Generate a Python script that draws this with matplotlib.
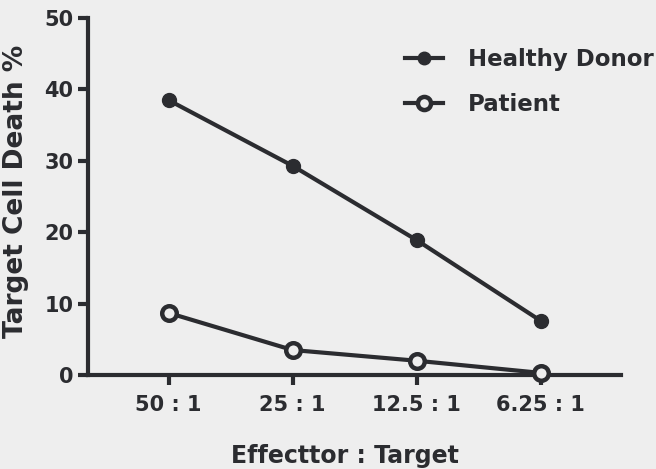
import matplotlib.pyplot as plt

ratios = ['50 : 1', '25 : 1', '12.5 : 1', '6.25 : 1']
healthy = [38.5, 29.3, 18.9, 7.6]
patient = [8.7, 3.5, 2.0, 0.3]

ink = '#2b2c30'
bg = '#eeeeee'

plt.rcParams['font.family'] = ['DejaVu Sans']
plt.rcParams['font.weight'] = 'bold'

fig = plt.figure(figsize=(6.56, 4.69), dpi=100, facecolor=bg)
ax = fig.add_axes([0.134, 0.2004, 0.813, 0.7612], facecolor=bg)

x = range(len(ratios))
ax.plot(x, healthy, color=ink, lw=3, marker='o', ms=10, mfc=ink, mec=ink,
        label='Healthy Donor', clip_on=False, zorder=3)
ax.plot(x, patient, color=ink, lw=3, marker='o', ms=10.5, mfc=bg, mec=ink,
        mew=3.2, label='Patient', clip_on=False, zorder=3)

ax.set_xlim(-0.65, 3.65)
ax.set_ylim(0, 50)
ax.set_xticks(list(x))
ax.set_xticklabels(ratios)
ax.set_yticks([0, 10, 20, 30, 40, 50])

for s in ['top', 'right']:
    ax.spines[s].set_visible(False)
for s in ['left', 'bottom']:
    ax.spines[s].set_color(ink)
    ax.spines[s].set_linewidth(3)
ax.tick_params(colors=ink, width=3, length=7.5, labelsize=15, pad=3)
ax.tick_params(axis='x', pad=7)

ax.set_ylabel('Target Cell Death %', fontsize=19, fontweight='bold', color=ink, va='center')
ax.yaxis.set_label_coords(-0.135, 0.513)
ax.set_xlabel('Effecttor : Target', fontsize=17, fontweight='bold', color=ink, va='center')
ax.xaxis.set_label_coords(0.482, -0.227)

leg = fig.legend(loc='upper left', bbox_to_anchor=(405 / 656, 1 - 48 / 469), frameon=False,
                 fontsize=16.5, handlelength=1.65, handletextpad=1.1, labelspacing=0.95,
                 borderpad=0, borderaxespad=0, markerscale=0.9)
for t in leg.get_texts():
    t.set_color(ink)

fig.savefig('out.png', dpi=100, facecolor=bg)
